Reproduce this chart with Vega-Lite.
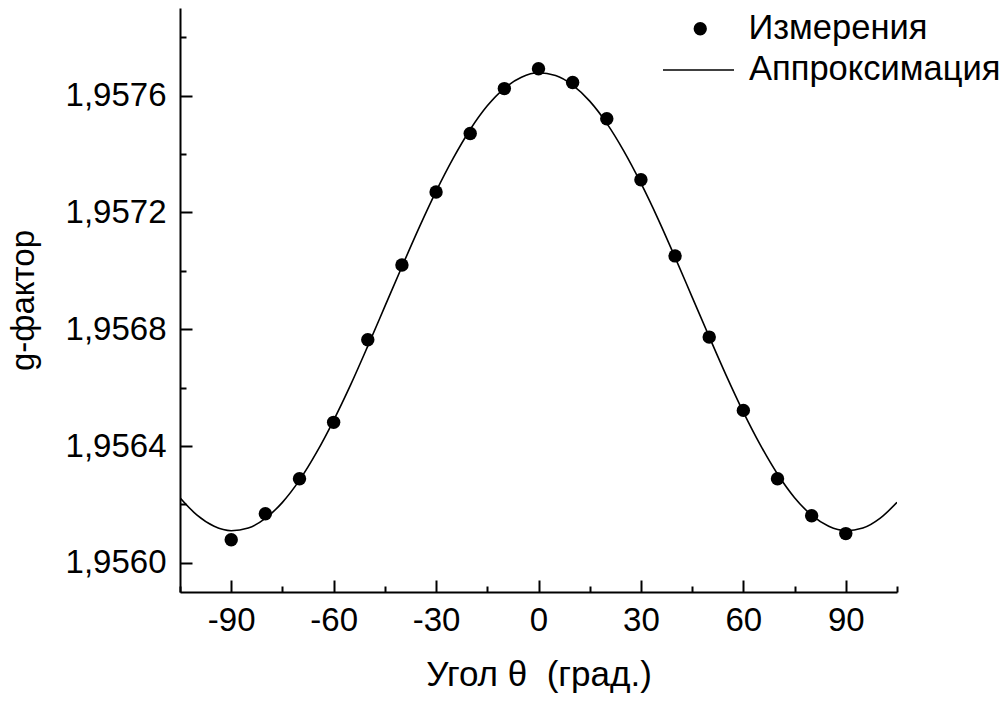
{
  "$schema": "https://vega.github.io/schema/vega-lite/v6.json",
  "width": 717,
  "height": 584,
  "autosize": {"type": "none"},
  "padding": {"left": 180, "top": 8, "right": 108, "bottom": 109},
  "background": "white",
  "config": {
    "view": {"stroke": null},
    "font": "Liberation Sans",
    "axis": {"grid": false, "labelFont": "Liberation Sans", "titleFont": "Liberation Sans", "labelColor": "black", "titleColor": "black", "titleFontWeight": "normal", "domainColor": "black", "tickColor": "black"},
    "legend": {"title": null, "padding": 0, "labelFont": "Liberation Sans", "labelFontSize": 34.5, "labelColor": "black", "labelLimit": 500}
  },
  "datasets": {
    "meas": [
      {"theta": -90, "g": 1.956079, "series": "Измерения"},
      {"theta": -80, "g": 1.956168, "series": "Измерения"},
      {"theta": -70, "g": 1.956288, "series": "Измерения"},
      {"theta": -60, "g": 1.956481, "series": "Измерения"},
      {"theta": -50, "g": 1.956764, "series": "Измерения"},
      {"theta": -40, "g": 1.957020, "series": "Измерения"},
      {"theta": -30, "g": 1.957270, "series": "Измерения"},
      {"theta": -20, "g": 1.957470, "series": "Измерения"},
      {"theta": -10, "g": 1.957624, "series": "Измерения"},
      {"theta": 0, "g": 1.957692, "series": "Измерения"},
      {"theta": 10, "g": 1.957645, "series": "Измерения"},
      {"theta": 20, "g": 1.957521, "series": "Измерения"},
      {"theta": 30, "g": 1.957312, "series": "Измерения"},
      {"theta": 40, "g": 1.957051, "series": "Измерения"},
      {"theta": 50, "g": 1.956773, "series": "Измерения"},
      {"theta": 60, "g": 1.956522, "series": "Измерения"},
      {"theta": 70, "g": 1.956288, "series": "Измерения"},
      {"theta": 80, "g": 1.956161, "series": "Измерения"},
      {"theta": 90, "g": 1.956100, "series": "Измерения"}
    ],
    "fit": [
      {"theta": -105, "g": 1.956223, "series": "Аппроксимация"},
      {"theta": -100, "g": 1.956163, "series": "Аппроксимация"},
      {"theta": -95, "g": 1.956125, "series": "Аппроксимация"},
      {"theta": -90, "g": 1.956110, "series": "Аппроксимация"},
      {"theta": -85, "g": 1.956119, "series": "Аппроксимация"},
      {"theta": -80, "g": 1.956152, "series": "Аппроксимация"},
      {"theta": -75, "g": 1.956207, "series": "Аппроксимация"},
      {"theta": -70, "g": 1.956283, "series": "Аппроксимация"},
      {"theta": -65, "g": 1.956378, "series": "Аппроксимация"},
      {"theta": -60, "g": 1.956488, "series": "Аппроксимация"},
      {"theta": -55, "g": 1.956610, "series": "Аппроксимация"},
      {"theta": -50, "g": 1.956742, "series": "Аппроксимация"},
      {"theta": -45, "g": 1.956878, "series": "Аппроксимация"},
      {"theta": -40, "g": 1.957014, "series": "Аппроксимация"},
      {"theta": -35, "g": 1.957147, "series": "Аппроксимация"},
      {"theta": -30, "g": 1.957272, "series": "Аппроксимация"},
      {"theta": -25, "g": 1.957385, "series": "Аппроксимация"},
      {"theta": -20, "g": 1.957484, "series": "Аппроксимация"},
      {"theta": -15, "g": 1.957565, "series": "Аппроксимация"},
      {"theta": -10, "g": 1.957625, "series": "Аппроксимация"},
      {"theta": -5, "g": 1.957663, "series": "Аппроксимация"},
      {"theta": 0, "g": 1.957678, "series": "Аппроксимация"},
      {"theta": 5, "g": 1.957669, "series": "Аппроксимация"},
      {"theta": 10, "g": 1.957636, "series": "Аппроксимация"},
      {"theta": 15, "g": 1.957581, "series": "Аппроксимация"},
      {"theta": 20, "g": 1.957505, "series": "Аппроксимация"},
      {"theta": 25, "g": 1.957410, "series": "Аппроксимация"},
      {"theta": 30, "g": 1.957300, "series": "Аппроксимация"},
      {"theta": 35, "g": 1.957178, "series": "Аппроксимация"},
      {"theta": 40, "g": 1.957046, "series": "Аппроксимация"},
      {"theta": 45, "g": 1.956910, "series": "Аппроксимация"},
      {"theta": 50, "g": 1.956774, "series": "Аппроксимация"},
      {"theta": 55, "g": 1.956641, "series": "Аппроксимация"},
      {"theta": 60, "g": 1.956516, "series": "Аппроксимация"},
      {"theta": 65, "g": 1.956403, "series": "Аппроксимация"},
      {"theta": 70, "g": 1.956304, "series": "Аппроксимация"},
      {"theta": 75, "g": 1.956223, "series": "Аппроксимация"},
      {"theta": 80, "g": 1.956163, "series": "Аппроксимация"},
      {"theta": 85, "g": 1.956125, "series": "Аппроксимация"},
      {"theta": 90, "g": 1.956110, "series": "Аппроксимация"},
      {"theta": 95, "g": 1.956119, "series": "Аппроксимация"},
      {"theta": 100, "g": 1.956152, "series": "Аппроксимация"},
      {"theta": 105, "g": 1.956207, "series": "Аппроксимация"}
    ]
  },
  "resolve": {"axis": {"x": "independent", "y": "independent"}},
  "layer": [
    {
      "data": {"name": "fit"},
      "mark": {"type": "line", "strokeWidth": 1.6, "interpolate": "monotone", "clip": true},
      "encoding": {
        "x": {"field": "theta", "type": "quantitative", "scale": {"domain": [-105, 105], "nice": false, "zero": false},
          "axis": {"orient": "bottom", "values": [-105, -75, -45, -15, 15, 45, 75, 105], "labels": false, "domain": false, "tickSize": -6, "tickWidth": 2, "title": null}},
        "y": {"field": "g", "type": "quantitative", "scale": {"domain": [1.9559, 1.9579], "nice": false, "zero": false},
          "axis": {"orient": "left", "values": [1.9562, 1.9566, 1.957, 1.9574, 1.9578], "labels": false, "domain": false, "tickSize": -6, "tickWidth": 2, "title": null}},
        "color": {"field": "series", "type": "nominal", "scale": {"domain": ["Аппроксимация"], "range": ["black"]},
          "legend": {"orient": "none", "legendX": 482, "legendY": 25.5, "symbolType": "stroke", "symbolSize": 5041, "symbolStrokeWidth": 1.6, "symbolStrokeColor": "black", "labelOffset": 14}}
      }
    },
    {
      "data": {"name": "meas"},
      "mark": {"type": "point", "filled": true, "color": "black", "opacity": 1, "size": 180},
      "encoding": {
        "x": {"field": "theta", "type": "quantitative", "scale": {"domain": [-105, 105], "nice": false, "zero": false},
          "axis": {"orient": "bottom", "values": [-90, -60, -30, 0, 30, 60, 90], "labelExpr": "'' + datum.value", "domainWidth": 2, "tickSize": -12, "tickWidth": 2, "labelPadding": 24, "labelFontSize": 33, "title": "Угол θ\u00a0 (град.)", "titleFontSize": 35, "titlePadding": 20}},
        "y": {"field": "g", "type": "quantitative", "scale": {"domain": [1.9559, 1.9579], "nice": false, "zero": false},
          "axis": {"orient": "left", "values": [1.956, 1.9564, 1.9568, 1.9572, 1.9576], "labelExpr": "replace(format(datum.value, '.4f'), '.', ',')", "domainWidth": 2, "tickSize": -12, "tickWidth": 2, "labelPadding": 26, "labelFontSize": 33, "title": "g-фактор", "titleFontSize": 33, "titlePadding": 25}},
        "shape": {"field": "series", "type": "nominal",
          "scale": {"domain": ["Измерения"], "range": ["circle"]},
          "legend": {"orient": "none", "legendX": 503, "legendY": 3.5, "symbolSize": 177, "symbolFillColor": "black", "symbolStrokeColor": "black", "labelOffset": 31}}
      }
    }
  ]
}
